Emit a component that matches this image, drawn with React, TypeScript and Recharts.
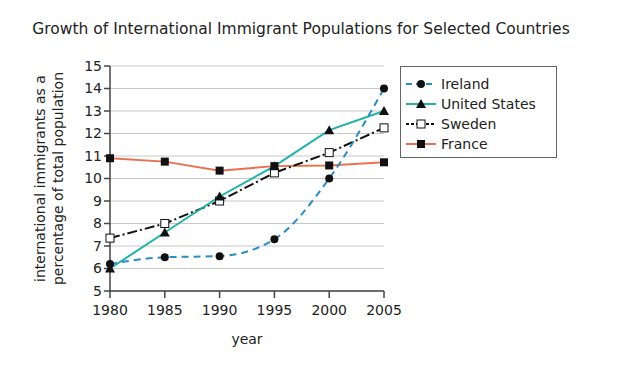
import React from 'react';
import { LineChart, Line, XAxis, YAxis, CartesianGrid } from 'recharts';

const years = [1980, 1985, 1990, 1995, 2000, 2005];
const ireland = [6.2, 6.5, 6.55, 7.3, 10.0, 14.0];
const unitedStates = [6.0, 7.6, 9.2, 10.55, 12.15, 13.0];
const sweden = [7.35, 8.0, 9.0, 10.25, 11.15, 12.25];
const france = [10.9, 10.75, 10.35, 10.55, 10.58, 10.72];
const yTicks = [5, 6, 7, 8, 9, 10, 11, 12, 13, 14, 15];

const data = years.map((year, i) => ({
  year,
  ireland: ireland[i],
  unitedStates: unitedStates[i],
  sweden: sweden[i],
  france: france[i],
}));

const FONT = '"DejaVu Sans", Verdana, sans-serif';

const Circle = (p: any) => <circle key={p.index} cx={p.cx} cy={p.cy} r={4} fill="#111" />;
const Triangle = (p: any) => (
  <path key={p.index} d={`M${p.cx},${p.cy - 5}L${p.cx + 5},${p.cy + 4}L${p.cx - 5},${p.cy + 4}Z`} fill="#111" />
);
const OpenSquare = (p: any) => (
  <rect key={p.index} x={p.cx - 4} y={p.cy - 4} width={8} height={8} fill="#fff" stroke="#111" strokeWidth={1} />
);
const Square = (p: any) => <rect key={p.index} x={p.cx - 4} y={p.cy - 4} width={8} height={8} fill="#111" />;

const legendItems = [
  { name: 'Ireland', color: '#2b8cc4', dash: '6 4', Mark: Circle },
  { name: 'United States', color: '#1fb3a8', dash: undefined, Mark: Triangle },
  { name: 'Sweden', color: '#111', dash: '3 2', Mark: OpenSquare },
  { name: 'France', color: '#e9714f', dash: undefined, Mark: Square },
];

const YLabel = (props: any) => {
  const vb = props.viewBox;
  const cy = vb.y + vb.height / 2;
  return (
    <g fontFamily={FONT} fontSize={14} fill="#222" textAnchor="middle">
      <text transform={`translate(45,${cy}) rotate(-90)`}>international immigrants as a</text>
      <text transform={`translate(63,${cy}) rotate(-90)`}>percentage of total population</text>
    </g>
  );
};

const App = () => {
  return (
    <div style={{ position: 'absolute', left: 0, top: 0, width: 626, height: 371, background: '#fff' }}>
      <div
        style={{
          position: 'absolute',
          left: 0,
          top: 20,
          width: 602,
          textAlign: 'center',
          fontFamily: FONT,
          fontSize: 15.5,
          color: '#222',
          whiteSpace: 'nowrap',
        }}
      >
        Growth of International Immigrant Populations for Selected Countries
      </div>
      <LineChart
        width={626}
        height={371}
        data={data}
        margin={{ top: 66, right: 242, bottom: 50, left: 0 }}
        style={{ position: 'absolute', left: 0, top: 0 }}
      >
        <CartesianGrid vertical={false} stroke="#c8c8c8" strokeWidth={1} />
        <XAxis
          dataKey="year"
          type="number"
          domain={[1980, 2005]}
          ticks={years}
          stroke="#444"
          strokeWidth={1.5}
          tickSize={7}
          tickMargin={7}
          tick={{ fill: '#222', fontSize: 14, fontFamily: FONT }}
          label={{ value: 'year', position: 'insideBottom', offset: -23, fill: '#222', fontSize: 14, fontFamily: FONT }}
        />
        <YAxis
          domain={[5, 15]}
          ticks={yTicks}
          interval={0}
          width={110}
          stroke="#444"
          strokeWidth={1.5}
          tickSize={6}
          tick={{ fill: '#222', fontSize: 14, fontFamily: FONT }}
          label={{ content: <YLabel /> }}
        />
        <Line
          dataKey="france"
          stroke="#e9714f"
          strokeWidth={2}
          dot={Square}
          isAnimationActive={false}
        />
        <Line
          dataKey="sweden"
          stroke="#111"
          strokeWidth={2}
          strokeDasharray="10 3 2 3"
          dot={OpenSquare}
          isAnimationActive={false}
        />
        <Line
          dataKey="unitedStates"
          stroke="#1fb3a8"
          strokeWidth={2}
          dot={Triangle}
          isAnimationActive={false}
        />
        <Line
          type="monotone"
          dataKey="ireland"
          stroke="#2b8cc4"
          strokeWidth={2}
          strokeDasharray="7 5"
          dot={Circle}
          isAnimationActive={false}
        />
      </LineChart>
      <div
        style={{
          position: 'absolute',
          left: 400,
          top: 66,
          width: 157,
          height: 92,
          border: '1px solid #666',
          boxSizing: 'border-box',
          fontFamily: FONT,
          fontSize: 14,
          color: '#222',
          paddingTop: 7,
          whiteSpace: 'nowrap',
        }}
      >
        {legendItems.map((it) => (
          <div key={it.name} style={{ display: 'flex', alignItems: 'center', height: 20 }}>
            <svg width={32} height={14} style={{ marginLeft: 4, flexShrink: 0 }}>
              <line x1={1} y1={7} x2={31} y2={7} stroke={it.color} strokeWidth={2} strokeDasharray={it.dash} />
              <it.Mark cx={16} cy={7} index={0} />
            </svg>
            <span style={{ marginLeft: 4 }}>{it.name}</span>
          </div>
        ))}
      </div>
    </div>
  );
};

export default App;
